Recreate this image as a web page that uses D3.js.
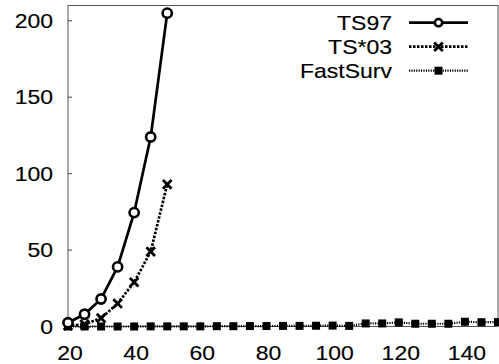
<!DOCTYPE html>
<html>
<head>
<meta charset="utf-8">
<script src="https://cdn.jsdelivr.net/npm/d3@7"></script>
<style>
  body { margin: 0; background: #fff; }
  text { font-family: "Liberation Sans", Arial, sans-serif; fill: #000; stroke: #000; stroke-width: 0.15px; }
</style>
</head>
<body>
<div id="chart"></div>
<script>
// data
let xs = [20, 25, 30, 35, 40, 45, 50, 55, 60, 65, 70, 75, 80, 85, 90, 95, 100,
          105, 110, 115, 120, 125, 130, 135, 140, 145, 150];
let ts97 = [2.5, 8, 18, 39, 74.5, 124, 205];
let ts03 = [0.5, 1.5, 5.5, 15, 29, 49, 93];
let fastSurv = [0, 0, 0, 0, 0, 0.1, 0.1, 0.1, 0.1, 0.2, 0.2, 0.3, 0.3, 0.4, 0.4, 0.5, 0.6,
                0.4, 2, 2, 2.7, 1.8, 1.8, 1.8, 3.1, 2.8, 2.9];
let xTicks = [20, 40, 60, 80, 100, 120, 140];
let yTicks = [0, 50, 100, 150, 200];
let seriesNames = ['TS97', 'TS*03', 'FastSurv'];

let width = 499, height = 364;
let margin = {top: 5.5, right: 1, bottom: 37.5, left: 68};
let stretch = 'scale(1.15,1)';

let svg = d3.select('#chart').append('svg')
    .attr('width', width)
    .attr('height', height);

let x = d3.scaleLinear().domain([20, 150]).range([margin.left, width - margin.right]);
let y = d3.scaleLinear().domain([0, 210]).range([height - margin.bottom, margin.top]);

function translate(a, b) { return 'translate(' + a + ',' + b + ')'; }

// frame
svg.append('rect')
    .attr('x', x(20)).attr('y', y(210))
    .attr('width', x(150) - x(20)).attr('height', y(0) - y(210))
    .attr('fill', 'none').attr('stroke', '#555').attr('stroke-width', 1);

// y ticks, inward
svg.selectAll('.ytick').data(yTicks).enter().append('line')
    .attr('x1', x(20)).attr('x2', x(20) + 4)
    .attr('y1', d => y(d)).attr('y2', d => y(d))
    .attr('stroke', '#444');
svg.selectAll('.ylab').data(yTicks).enter().append('text')
    .attr('transform', d => translate(x(20) - 15, y(d) + 7) + ' ' + stretch)
    .attr('text-anchor', 'end')
    .attr('font-size', 20)
    .text(d => d);

// x ticks, inward
svg.selectAll('.xtick').data(xTicks).enter().append('line')
    .attr('x1', d => x(d)).attr('x2', d => x(d))
    .attr('y1', y(0)).attr('y2', y(0) - 4)
    .attr('stroke', '#444');
svg.selectAll('.xlab').data(xTicks).enter().append('text')
    .attr('transform', d => translate(x(d) + 2, height - 4.5) + ' ' + stretch)
    .attr('text-anchor', 'middle')
    .attr('font-size', 20)
    .text(d => d);

let line = d3.line().x(d => x(d[0])).y(d => y(d[1]));

let styles = [
    {dash: null, width: 2.7},
    {dash: '2.5,1.5', width: 2.7},
    {dash: '1.2,1.2', width: 2.2}
];

let series = [
    d3.zip(xs.slice(0, ts97.length), ts97),
    d3.zip(xs.slice(0, ts03.length), ts03),
    d3.zip(xs, fastSurv)
];

function drawMarker(g, i, cx, cy, s) {
    if (i === 0) {
        g.append('circle').attr('cx', cx).attr('cy', cy).attr('r', 4.6 * s)
            .attr('fill', '#fff').attr('stroke', '#000').attr('stroke-width', 2.6);
    } else if (i === 1) {
        let r = 4.3 * s;
        g.append('path')
            .attr('d', `M${cx - r},${cy - r}L${cx + r},${cy + r}M${cx - r},${cy + r}L${cx + r},${cy - r}`)
            .attr('stroke', '#000').attr('stroke-width', 2.8).attr('fill', 'none');
    } else {
        let h = 4 * s;
        g.append('rect').attr('x', cx - h).attr('y', cy - h)
            .attr('width', 2 * h).attr('height', 2 * h).attr('fill', '#000');
    }
}

// draw FastSurv first, then TS*03, then TS97 on top
[2, 1, 0].forEach(i => {
    let g = svg.append('g');
    g.append('path')
        .datum(series[i])
        .attr('d', line)
        .attr('fill', 'none')
        .attr('stroke', '#000')
        .attr('stroke-width', styles[i].width)
        .attr('stroke-dasharray', styles[i].dash);
    series[i].forEach(d => drawMarker(g, i, x(d[0]), y(d[1]), 1));
});

// legend
let legendY = [22.7, 46.7, 70.7];
seriesNames.forEach((name, i) => {
    let g = svg.append('g');
    g.append('text')
        .attr('transform', translate(392, legendY[i] + 7) + ' ' + stretch)
        .attr('text-anchor', 'end')
        .attr('font-size', 20)
        .text(name);
    g.append('line')
        .attr('x1', 409).attr('x2', 468)
        .attr('y1', legendY[i]).attr('y2', legendY[i])
        .attr('stroke', '#000')
        .attr('stroke-width', styles[i].width)
        .attr('stroke-dasharray', styles[i].dash);
    drawMarker(g, i, 438.5, legendY[i], i === 0 ? 0.8 : 1);
});
</script>
</body>
</html>
